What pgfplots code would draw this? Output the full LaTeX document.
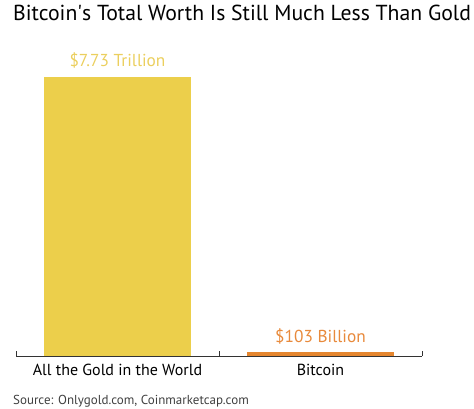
\documentclass[border=0pt]{standalone}
\usepackage{pgfplots}
\pgfplotsset{compat=1.18}
\usepackage{fontspec}
\setmainfont{PT Sans}
\definecolor{goldbar}{HTML}{ECCF4B}
\definecolor{goldtxt}{HTML}{EBCF5E}
\definecolor{btcbar}{HTML}{E5862E}
\definecolor{btctxt}{HTML}{E88A3C}
\definecolor{axisgray}{HTML}{333333}
\begin{document}
\begin{tikzpicture}[x=1pt,y=1pt]
\useasboundingbox (0,0) rectangle (474,409);
\node[anchor=base west,font=\fontsize{21.7}{24}\selectfont,inner sep=0pt] at (13,388) {Bitcoin\textquotesingle s Total Worth Is Still Much Less Than Gold};
\node[anchor=base west,font=\fontsize{13}{15}\selectfont,text=black!75,inner sep=0pt] at (13,4) {Source: Onlygold.com, Coinmarketcap.com};
\begin{axis}[
  at={(16pt,53pt)}, anchor=south west,
  scale only axis, width=406pt, height=279pt,
  xmin=-0.5, xmax=1.5, ymin=0, ymax=7730,
  axis x line*=bottom, hide y axis,
  axis line style={axisgray, line width=0.9pt},
  xtick={0,1}, xticklabels={All the Gold in the World, Bitcoin},
  major tick length=0pt,
  extra x ticks={-0.5,0.5,1.5}, extra x tick labels={},
  extra x tick style={major tick length=5pt, tick align=inside, tick style={axisgray,line width=0.9pt}},
  xticklabel style={font=\fontsize{16}{18}\selectfont, yshift=-5pt},
  ybar, bar width=147pt, bar shift=0pt,
  clip=false,
  nodes near coords style={font=\fontsize{17.3}{20}\selectfont, anchor=south, yshift=5pt},
]
\addplot[draw=none, fill=goldbar, nodes near coords={\$7.73 Trillion}, every node near coord/.append style={text=goldtxt}] coordinates {(0,7730)};
\addplot[draw=none, fill=btcbar, nodes near coords={\$103 Billion}, every node near coord/.append style={text=btctxt}] coordinates {(1,103)};
\end{axis}
\end{tikzpicture}
\end{document}
